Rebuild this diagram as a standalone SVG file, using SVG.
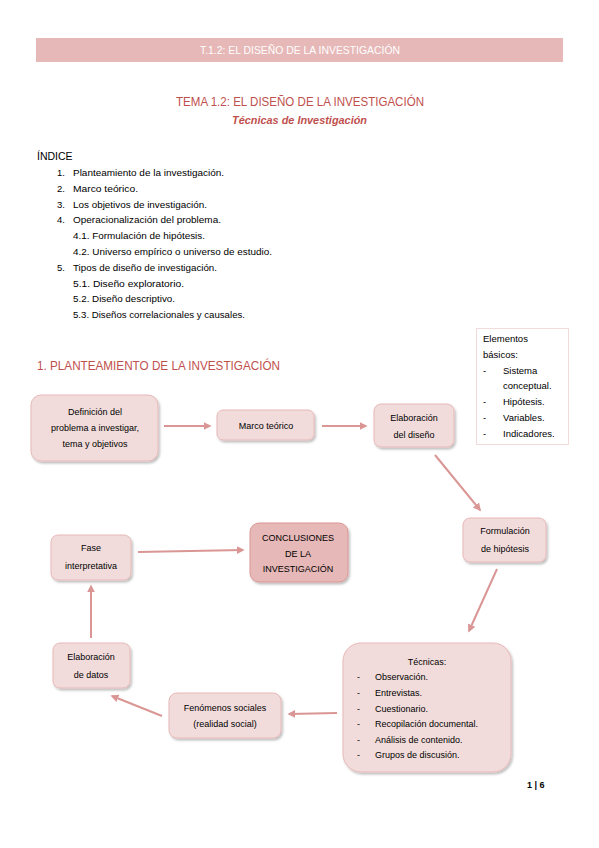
<svg xmlns="http://www.w3.org/2000/svg" width="599" height="848" viewBox="0 0 599 848">
<defs>
<style>
text{font-family:"Liberation Sans",Arial,sans-serif;fill:#000}
.b{font-size:9.5px}
.n{font-size:9px;text-anchor:middle}
.red{fill:#c0504d}
.node{fill:#f2dcdb;stroke:#e6b8b7;stroke-width:1}
.conn{stroke:#d99694;stroke-width:2;fill:none;marker-end:url(#ah)}
</style>
<marker id="ah" viewBox="0 0 10 10" refX="8" refY="5" markerWidth="4" markerHeight="4" orient="auto" markerUnits="strokeWidth">
<path d="M0,0 L10,5 L0,10 z" fill="#d99694"/>
</marker>
<filter id="sh" x="-20%" y="-20%" width="150%" height="150%">
<feDropShadow dx="1.5" dy="2" stdDeviation="1.2" flood-color="#000" flood-opacity="0.25"/>
</filter>
</defs>
<rect width="599" height="848" fill="#fff"/>
<g id="header">
<rect x="36" y="38" width="527" height="24" fill="#e6b8b7"/>
<text x="300" y="54" font-size="10.5" text-anchor="middle" style="fill:#fff" textLength="200" lengthAdjust="spacingAndGlyphs">T.1.2: EL DISEÑO DE LA INVESTIGACIÓN</text>
</g>
<g id="title">
<text x="176" y="106" font-size="13" class="red" textLength="248" lengthAdjust="spacingAndGlyphs">TEMA 1.2: EL DISEÑO DE LA INVESTIGACIÓN</text>
<text x="232" y="124" font-size="11.5" class="red" font-style="italic" font-weight="bold" textLength="135" lengthAdjust="spacingAndGlyphs">Técnicas de Investigación</text>
</g>
<g id="indice">
<text x="37" y="160" font-size="10.5">ÍNDICE</text>
<text x="57" y="176" class="b">1.</text><text x="73" y="176" class="b" textLength="151" lengthAdjust="spacingAndGlyphs">Planteamiento de la investigación.</text>
<text x="57" y="192" class="b">2.</text><text x="73" y="192" class="b" textLength="65" lengthAdjust="spacingAndGlyphs">Marco teórico.</text>
<text x="57" y="208" class="b">3.</text><text x="73" y="208" class="b" textLength="134" lengthAdjust="spacingAndGlyphs">Los objetivos de investigación.</text>
<text x="57" y="223" class="b">4.</text><text x="73" y="223" class="b" textLength="148" lengthAdjust="spacingAndGlyphs">Operacionalización del problema.</text>
<text x="73" y="239" class="b" textLength="132" lengthAdjust="spacingAndGlyphs">4.1. Formulación de hipótesis.</text>
<text x="73" y="255" class="b" textLength="199" lengthAdjust="spacingAndGlyphs">4.2. Universo empírico o universo de estudio.</text>
<text x="57" y="271" class="b">5.</text><text x="73" y="271" class="b" textLength="144" lengthAdjust="spacingAndGlyphs">Tipos de diseño de investigación.</text>
<text x="73" y="287" class="b" textLength="111" lengthAdjust="spacingAndGlyphs">5.1. Diseño exploratorio.</text>
<text x="73" y="302" class="b" textLength="102" lengthAdjust="spacingAndGlyphs">5.2. Diseño descriptivo.</text>
<text x="73" y="318" class="b" textLength="172" lengthAdjust="spacingAndGlyphs">5.3. Diseños correlacionales y causales.</text>
</g>
<g id="heading1">
<text x="37" y="370" font-size="13" class="red" textLength="243" lengthAdjust="spacingAndGlyphs">1.  PLANTEAMIENTO DE LA INVESTIGACIÓN</text>
</g>
<g id="elementos">
<rect x="476.5" y="328.5" width="92" height="116" fill="#fff" stroke="#f2dcdb"/>
<text x="483" y="342" class="b">Elementos</text>
<text x="483" y="358" class="b">básicos:</text>
<text x="483" y="374" class="b">-</text><text x="503" y="374" class="b">Sistema</text>
<text x="503" y="389" class="b">conceptual.</text>
<text x="483" y="405" class="b">-</text><text x="503" y="405" class="b">Hipótesis.</text>
<text x="483" y="421" class="b">-</text><text x="503" y="421" class="b">Variables.</text>
<text x="483" y="437" class="b">-</text><text x="503" y="437" class="b">Indicadores.</text>
</g>
<g id="connectors">
<line class="conn" x1="164" y1="426" x2="210" y2="426"/>
<line class="conn" x1="322" y1="426" x2="366" y2="426"/>
<line class="conn" x1="435" y1="455" x2="480" y2="510"/>
<line class="conn" x1="497" y1="569" x2="469" y2="631"/>
<line class="conn" x1="337" y1="713" x2="289" y2="714"/>
<line class="conn" x1="162" y1="716" x2="112" y2="696"/>
<line class="conn" x1="91" y1="638" x2="91" y2="586"/>
<line class="conn" x1="138" y1="552" x2="243" y2="550"/>
</g>
<g id="n-definicion">
<rect class="node" x="31" y="395" width="127" height="66" rx="10" filter="url(#sh)"/>
<text x="95" y="415" class="n">Definición del</text>
<text x="95" y="431" class="n">problema a investigar,</text>
<text x="95" y="447" class="n">tema y objetivos</text>
</g>
<g id="n-marco">
<rect class="node" x="217" y="410" width="97" height="30" rx="6" filter="url(#sh)"/>
<text x="266" y="429" class="n">Marco teórico</text>
</g>
<g id="n-elaboracion-diseno">
<rect class="node" x="374" y="404" width="80" height="43" rx="7" filter="url(#sh)"/>
<text x="414" y="421" class="n">Elaboración</text>
<text x="414" y="438" class="n">del diseño</text>
</g>
<g id="n-formulacion">
<rect class="node" x="463" y="518" width="83" height="44" rx="7" filter="url(#sh)"/>
<text x="505" y="534" class="n">Formulación</text>
<text x="505" y="552" class="n">de hipótesis</text>
</g>
<g id="n-tecnicas">
<rect class="node" x="343" y="643" width="168" height="129" rx="18" filter="url(#sh)"/>
<text x="427" y="665" class="n">Técnicas:</text>
<text x="357" y="680" font-size="9">-</text><text x="375" y="680" font-size="9">Observación.</text>
<text x="357" y="696" font-size="9">-</text><text x="375" y="696" font-size="9">Entrevistas.</text>
<text x="357" y="712" font-size="9">-</text><text x="375" y="712" font-size="9">Cuestionario.</text>
<text x="357" y="727" font-size="9">-</text><text x="375" y="727" font-size="9">Recopilación documental.</text>
<text x="357" y="743" font-size="9">-</text><text x="375" y="743" font-size="9">Análisis de contenido.</text>
<text x="357" y="758" font-size="9">-</text><text x="375" y="758" font-size="9">Grupos de discusión.</text>
</g>
<g id="n-fenomenos">
<rect class="node" x="169" y="693" width="112" height="45" rx="8" filter="url(#sh)"/>
<text x="225" y="711" class="n">Fenómenos sociales</text>
<text x="225" y="727" class="n">(realidad social)</text>
</g>
<g id="n-elaboracion-datos">
<rect class="node" x="53" y="643" width="77" height="45" rx="7" filter="url(#sh)"/>
<text x="91" y="660" class="n">Elaboración</text>
<text x="91" y="678" class="n">de datos</text>
</g>
<g id="n-fase">
<rect class="node" x="51" y="535" width="80" height="45" rx="7" filter="url(#sh)"/>
<text x="91" y="551" class="n">Fase</text>
<text x="91" y="569" class="n">interpretativa</text>
</g>
<g id="n-conclusiones">
<rect x="250" y="523" width="98" height="59" rx="9" fill="#e6b8b7" stroke="#d99694" stroke-width="1" filter="url(#sh)"/>
<text x="298" y="541" class="n">CONCLUSIONES</text>
<text x="298" y="557" class="n">DE LA</text>
<text x="298" y="572" class="n">INVESTIGACIÓN</text>
</g>
<g id="pagenum">
<text x="527" y="788" font-size="9" font-weight="bold">1 | 6</text>
</g>
</svg>
